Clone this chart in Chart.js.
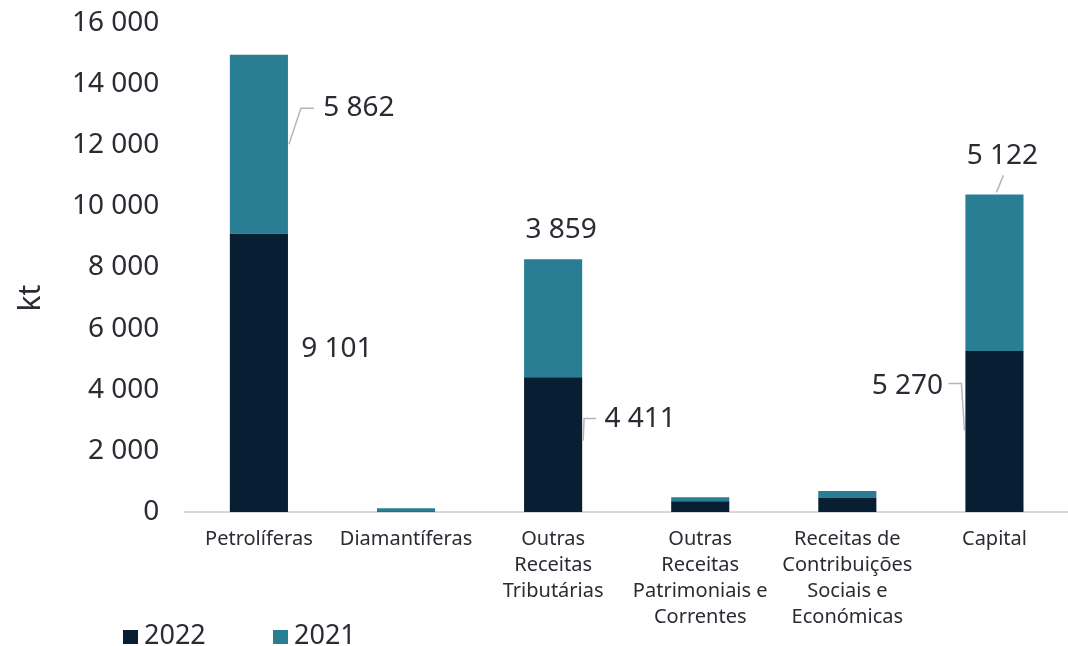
<!DOCTYPE html>
<html>
<head>
<meta charset="utf-8">
<script src="https://cdn.jsdelivr.net/npm/chart.js@4"></script>
<style>
  html, body { margin: 0; padding: 0; background: #fff; }
  #wrap { width: 1068px; height: 646px; }
</style>
</head>
<body>
<div id="wrap"><canvas id="chart" width="1068" height="646"></canvas></div>
<script>
var categories = [
  'Petrolíferas',
  'Diamantíferas',
  ['Outras', 'Receitas', 'Tributárias'],
  ['Outras', 'Receitas', 'Patrimoniais e', 'Correntes'],
  ['Receitas de', 'Contribuições', 'Sociais e', 'Económicas'],
  'Capital'
];
var values2022 = [9101, 20, 4411, 350, 460, 5270];
var values2021 = [5862, 100, 3859, 130, 230, 5122];
var yTicks = [0, 2000, 4000, 6000, 8000, 10000, 12000, 14000, 16000];

var FONT = '"Noto Sans", sans-serif';
var TEXT = '#2b2b33';

function fmt(v) {
  return String(v).replace(/\B(?=(\d{3})+(?!\d))/g, ' ');
}

// labels shown: offset from the segment middle ('mid') or its top edge ('top')
var labelSpots = {
  0: { 0: { at: 'mid', dx: 78, dy: -24 },
       1: { at: 'mid', dx: 100, dy: -36, leader: [[30, 0], [42, -36], [55, -36]] } },
  2: { 0: { at: 'mid', dx: 87, dy: -26, leader: [[30, -4], [31, -26], [43, -26]] },
       1: { at: 'top', dx: 8, dy: -29 } },
  5: { 0: { at: 'mid', dx: -87, dy: -45, leader: [[-30, -1], [-33, -48], [-46, -48]] },
       1: { at: 'top', dx: 8, dy: -38, leader: [[2, -2], [9, -19]] } }
};

var labelPlugin = {
  id: 'barLabels',
  afterDatasetsDraw: function (chart) {
    var ctx = chart.ctx;
    ctx.save();
    ctx.font = '28px ' + FONT;
    ctx.fillStyle = TEXT;
    ctx.textAlign = 'center';
    ctx.textBaseline = 'middle';
    chart.data.datasets.forEach(function (ds, di) {
      var meta = chart.getDatasetMeta(di);
      meta.data.forEach(function (bar, i) {
        var spot = labelSpots[i] && labelSpots[i][di];
        if (!spot) return;
        var cx = bar.x;
        var cy = spot.at === 'top' ? Math.min(bar.y, bar.base) : (bar.y + bar.base) / 2;
        if (spot.leader) {
          ctx.strokeStyle = '#b5b5bd';
          ctx.lineWidth = 1.5;
          ctx.beginPath();
          spot.leader.forEach(function (p, k) {
            if (k === 0) ctx.moveTo(cx + p[0], cy + p[1]);
            else ctx.lineTo(cx + p[0], cy + p[1]);
          });
          ctx.stroke();
        }
        ctx.fillText(fmt(ds.data[i]), cx + spot.dx, cy + spot.dy);
      });
    });
    ctx.restore();
  }
};

// y title and bottom legend, placed like the original
var extrasPlugin = {
  id: 'extras',
  afterDraw: function (chart) {
    var ctx = chart.ctx;
    ctx.save();
    ctx.fillStyle = TEXT;
    ctx.font = '30px ' + FONT;
    ctx.translate(31, 298);
    ctx.rotate(-Math.PI / 2);
    ctx.textAlign = 'center';
    ctx.textBaseline = 'middle';
    ctx.fillText('kt', 0, 0);
    ctx.restore();

    ctx.save();
    ctx.font = '27px ' + FONT;
    ctx.textBaseline = 'middle';
    var xs = [123, 273];
    chart.data.datasets.forEach(function (ds, di) {
      ctx.fillStyle = ds.backgroundColor;
      ctx.fillRect(xs[di], 630, 15, 14);
      ctx.fillStyle = TEXT;
      ctx.fillText(ds.label, xs[di] + 21, 636);
    });
    ctx.restore();
  }
};

new Chart(document.getElementById('chart').getContext('2d'), {
  type: 'bar',
  data: {
    labels: categories,
    datasets: [{
      label: '2022',
      data: values2022,
      backgroundColor: '#081e33',
      barPercentage: 0.395,
      categoryPercentage: 1
    }, {
      label: '2021',
      data: values2021,
      backgroundColor: '#2a7e93',
      barPercentage: 0.395,
      categoryPercentage: 1
    }]
  },
  options: {
    responsive: false,
    animation: false,
    layout: { padding: { top: 23, right: 0, left: 46, bottom: 2 } },
    plugins: {
      tooltip: { enabled: false },
      legend: { display: false }
    },
    scales: {
      x: {
        stacked: true,
        grid: { display: false, drawTicks: false },
        border: { color: '#d9d9d9', width: 2 },
        ticks: {
          color: TEXT,
          padding: 14,
          maxRotation: 0,
          autoSkip: false,
          font: { family: FONT, size: 20, lineHeight: 1.3 }
        }
      },
      y: {
        stacked: true,
        min: 0,
        max: 16000,
        afterBuildTicks: function (scale) {
          scale.ticks = yTicks.map(function (v) { return { value: v }; });
        },
        afterFit: function (scale) {
          scale.paddingTop = 0;
          scale.paddingBottom = 0;
        },
        grid: { display: false, drawTicks: false },
        border: { display: false },
        ticks: {
          color: TEXT,
          padding: 26,
          font: { family: FONT, size: 28 },
          callback: function (v) { return fmt(v); }
        }
      }
    }
  },
  plugins: [labelPlugin, extrasPlugin]
});
</script>
</body>
</html>
